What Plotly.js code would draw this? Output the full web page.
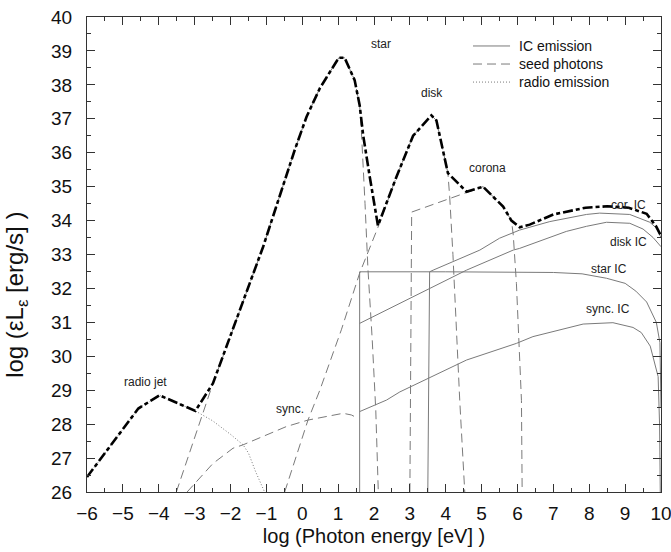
<!DOCTYPE html>
<html>
<head>
<meta charset="utf-8">
<script src="https://cdn.plot.ly/plotly-3.0.1.min.js"></script>
<style>
html,body{margin:0;padding:0;background:#fff;}
#chart{width:671px;height:552px;}
</style>
</head>
<body>
<div id="chart"></div>
<script>
// ---- data (log photon energy [eV], log eL_e [erg/s]) ----
const totalX = [-6, -4.57, -3.98, -2.98, -2.49, -2.11, -1.09, -0.21, 0.12, 0.49, 1.02, 1.18, 1.46, 1.6, 1.7, 1.88, 2.11, 2.63, 3.09, 3.6, 3.74, 4.06, 4.3, 4.58, 5.04, 5.6, 5.83, 6.06, 6.34, 7.0, 7.9, 8.5, 9.1, 9.6, 9.87, 10];
const totalY = [26.44, 28.46, 28.85, 28.39, 29.2, 30.28, 33.23, 36.08, 37.06, 37.9, 38.8, 38.8, 38.14, 37.4, 36.5, 35.3, 33.85, 35.3, 36.5, 37.1, 36.95, 35.4, 35.15, 34.85, 35.0, 34.41, 34.0, 33.8, 33.88, 34.18, 34.38, 34.42, 34.38, 34.2, 33.82, 33.55];

const starSeedX = [-3.51, -2.49, -2.11, -1.09, -0.21, 0.12, 0.49, 1.02, 1.18, 1.46, 1.6, 1.65, 1.75, 1.83, 1.95, 2.05, 2.12];
const starSeedY = [26, 29.2, 30.28, 33.23, 36.08, 37.06, 37.9, 38.8, 38.8, 38.14, 37.4, 36.6, 34.5, 32.6, 30.5, 28.4, 26];

const diskSeedX = [-0.49, 0.16, 0.49, 1.09, 1.6, 2.11, 2.63, 3.09, 3.6, 3.74, 4.06, 4.11, 4.2, 4.3, 4.39, 4.53];
const diskSeedY = [26, 28.12, 29.0, 30.78, 32.45, 33.8, 35.3, 36.5, 37.1, 36.95, 35.4, 34.7, 33.0, 30.6, 28.7, 26];

const coronaSeedX = [3.0, 3.05, 5.04, 5.6, 5.83, 5.88, 5.97, 6.05, 6.11, 6.13];
const coronaSeedY = [26, 34.25, 35.0, 34.41, 34.0, 33.6, 32.15, 30.3, 28.7, 26];

const syncSeedX = [-3.21, -2.49, -1.93, -1.65, -0.44, 0.16, 1.14, 1.37, 1.56];
const syncSeedY = [26, 26.84, 27.29, 27.39, 27.93, 28.12, 28.32, 28.27, 28.17];

const radioX = [-6, -4.57, -3.98, -2.98, -2.5, -2.0, -1.65, -1.5, -1.3, -1.05];
const radioY = [26.44, 28.46, 28.85, 28.39, 28.1, 27.7, 27.39, 27.15, 26.6, 26];

const starICX = [1.6, 1.6, 4, 6, 7, 7.8, 8.48, 9.0, 9.3, 9.6, 9.87, 9.97, 10];
const starICY = [26, 32.49, 32.49, 32.49, 32.47, 32.43, 32.3, 32.15, 31.92, 31.6, 31.0, 30.4, 28.5];

const diskICX = [1.6, 2.72, 3.6, 4.58, 5.88, 6.06, 7.36, 7.92, 8.48, 9.13, 9.5, 9.78, 10];
const diskICY = [30.97, 31.56, 32.0, 32.54, 33.13, 33.18, 33.68, 33.83, 33.95, 33.92, 33.75, 33.5, 33.23];

const corICX = [3.5, 3.55, 3.65, 4.95, 5.5, 6.06, 6.9, 7.92, 8.29, 9.13, 9.69, 9.85, 10];
const corICY = [26, 32.49, 32.54, 33.13, 33.48, 33.72, 33.97, 34.18, 34.22, 34.18, 33.95, 33.8, 33.5];

const syncICX = [1.6, 2.35, 2.72, 4.58, 5.97, 6.43, 7.83, 8.48, 8.66, 9.22, 9.45, 9.7, 9.85, 9.92, 9.96, 9.98];
const syncICY = [28.37, 28.71, 28.95, 29.89, 30.38, 30.58, 30.95, 30.99, 30.99, 30.85, 30.7, 30.3, 29.7, 29.4, 28.0, 26];

const labels = [
  {t: 'star', x: 2.19, y: 39.2},
  {t: 'disk', x: 3.63, y: 37.76},
  {t: 'corona', x: 5.16, y: 35.54},
  {t: 'cor. IC', x: 9.1, y: 34.46},
  {t: 'disk IC', x: 9.1, y: 33.38},
  {t: 'star IC', x: 8.54, y: 32.57},
  {t: 'sync. IC', x: 8.53, y: 31.39},
  {t: 'sync.', x: -0.35, y: 28.46},
  {t: 'radio jet', x: -4.38, y: 29.24}
];
const legendNames = ['IC emission', 'seed photons', 'radio emission'];

// ---- styles ----
const GRAY = '#7a7a7a';
const icLine = {color: GRAY, width: 1};
const seedLine = {color: GRAY, width: 1, dash: '9px,5px'};
const radioLine = {color: GRAY, width: 1, dash: '1px,2px'};

function tr(x, y, line, name) {
  return {x: x, y: y, type: 'scatter', mode: 'lines', line: line,
          name: name, showlegend: false, hoverinfo: 'skip'};
}

const data = [
  tr(starICX, starICY, icLine, legendNames[0]),
  tr(diskICX, diskICY, icLine, legendNames[0]),
  tr(corICX, corICY, icLine, legendNames[0]),
  tr(syncICX, syncICY, icLine, legendNames[0]),
  tr(starSeedX, starSeedY, seedLine, legendNames[1]),
  tr(diskSeedX, diskSeedY, seedLine, legendNames[1]),
  tr(coronaSeedX, coronaSeedY, seedLine, legendNames[1]),
  tr(syncSeedX, syncSeedY, seedLine, legendNames[1]),
  tr(radioX, radioY, radioLine, legendNames[2]),
  tr(totalX, totalY, {color: '#000', width: 2.6, dash: '10px,3px,4px,3px'}, 'total')
];

const FONT = 'Liberation Sans, Arial, Helvetica, sans-serif';

const axisCommon = {
  showgrid: false, zeroline: false,
  showline: true, linecolor: '#333', linewidth: 1, mirror: 'ticks',
  ticks: 'inside', ticklen: 8, tickwidth: 1, tickcolor: '#333',
  minor: {ticks: 'inside', ticklen: 4, tickwidth: 1, tickcolor: '#333', dtick: 0.5},
  tickfont: {family: FONT, size: 19, color: '#111'},
  ticklabeloverflow: 'allow',
  dtick: 1
};

// manual legend (line samples + labels) in paper coordinates
const legendStyles = [icLine, seedLine, radioLine];
const legendRowsY = [0.939, 0.901, 0.863];
const legendShapes = legendNames.map((n, i) => ({
  type: 'line', xref: 'paper', yref: 'paper',
  x0: 0.6725, x1: 0.737, y0: legendRowsY[i], y1: legendRowsY[i],
  line: legendStyles[i]
}));
const legendTexts = legendNames.map((n, i) => ({
  xref: 'paper', yref: 'paper', x: 0.749, y: legendRowsY[i],
  xanchor: 'left', yanchor: 'middle', text: n, showarrow: false,
  font: {family: FONT, size: 14, color: '#111'}
}));

const layout = {
  width: 671, height: 552,
  margin: {l: 87, r: 10, t: 17, b: 60},
  paper_bgcolor: '#fff', plot_bgcolor: '#fff',
  font: {family: FONT, color: '#111'},
  showlegend: false,
  xaxis: Object.assign({}, axisCommon, {
    range: [-6, 10], tick0: -6, ticklabelstandoff: 4,
    title: {text: 'log (Photon energy [eV] )', font: {family: FONT, size: 20, color: '#111'}, standoff: 6}
  }),
  yaxis: Object.assign({}, axisCommon, {
    range: [26, 40], tick0: 26, ticklabelstandoff: 10,
    title: {text: ''}
  }),
  shapes: legendShapes,
  annotations: labels.map(l => ({
    x: l.x, y: l.y, xref: 'x', yref: 'y', text: l.t, showarrow: false,
    font: {family: FONT, size: 12, color: '#222'}
  })).concat(legendTexts).concat([{
    xref: 'paper', yref: 'paper', x: -0.122, y: 0.415,
    xanchor: 'center', yanchor: 'middle', textangle: -90, showarrow: false,
    text: 'log (εL<sub>ε</sub> [erg/s] )',
    font: {family: FONT, size: 24, color: '#111'}
  }])
};

Plotly.newPlot('chart', data, layout, {displayModeBar: false, staticPlot: true});
</script>
</body>
</html>
